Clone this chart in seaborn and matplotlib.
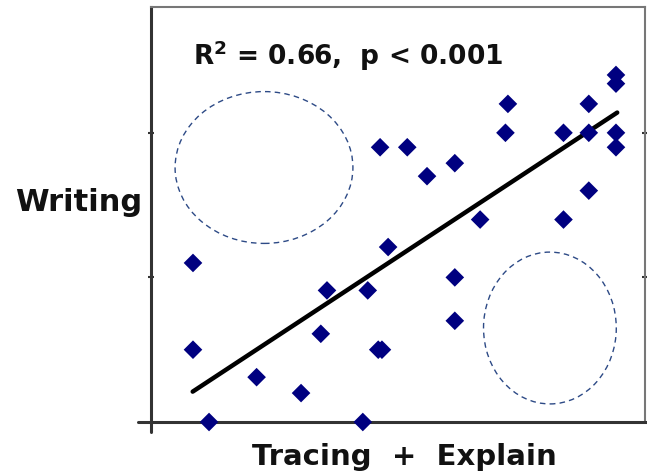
import numpy as np
import pandas as pd
import matplotlib
matplotlib.use('Agg')
import matplotlib.pyplot as plt
import seaborn as sns
from matplotlib.patches import Ellipse

# --- datos ---
tracing = [0.68, 0.68, 0.94, 1.71, 2.43, 2.75, 2.85, 3.43, 3.51, 3.68, 3.74,
           3.84, 3.71, 4.15, 4.47, 4.92, 4.92, 4.92, 5.33, 5.74, 5.78, 6.68,
           6.68, 7.09, 7.09, 7.09, 7.53, 7.53, 7.53, 7.53]
writing = [1.10, 0.50, 0.00, 0.31, 0.20, 0.61, 0.91, 0.00, 0.91, 0.50, 0.50,
           1.21, 1.90, 1.90, 1.70, 1.79, 1.00, 0.70, 1.40, 2.00, 2.20, 2.00,
           1.40, 2.20, 2.00, 1.60, 2.40, 2.34, 2.00, 1.90]

# recta de ajuste (extremos leidos)
fit_x = [0.675, 7.55]
fit_y = [0.21, 2.14]

# elipses punteadas: centro x, centro y, ancho, alto
ell_cx = [1.83, 6.46]
ell_cy = [1.76, 0.65]
ell_w = [2.88, 2.15]
ell_h = [1.05, 1.05]

stats_txt = r'R$^\mathbf{2}$ = 0.66,  p < 0.001'

df = pd.DataFrame({'tracing': tracing, 'writing': writing})

sns.set_style('white')
plt.rcParams['font.family'] = ['DejaVu Sans']
plt.rcParams['mathtext.fontset'] = 'dejavusans'

fig = plt.figure(figsize=(6.47, 4.76), dpi=100)
ax = fig.add_axes([151/647, 1-422/476, 494/647, 415/476])

for cx, cy, w, h in zip(ell_cx, ell_cy, ell_w, ell_h):
    ax.add_patch(Ellipse((cx, cy), w, h, fill=False, ls=(0, (4, 3)),
                         lw=1.0, ec='#2d4a86'))

sns.lineplot(x=fit_x, y=fit_y, ax=ax, color='black', lw=3.2)
sns.scatterplot(data=df, x='tracing', y='writing', ax=ax, marker='D',
                s=90, color='#000080', edgecolor='none', clip_on=False, zorder=5)

ax.set_xlim(0, 8)
ax.set_ylim(0, 2.87)
ax.set_xticks([7])
ax.set_yticks([1, 2])
ax.set_xticklabels([])
ax.set_yticklabels([])
ax.tick_params(axis='x', direction='out', length=3, width=1.5, color='#333')
ax.tick_params(axis='y', direction='inout', length=5, width=1.5, color='#333',
               right=True, left=True)

for s in ['left', 'bottom']:
    ax.spines[s].set_color('#333333')
    ax.spines[s].set_linewidth(2.2)
for s in ['top', 'right']:
    ax.spines[s].set_color('#777777')
    ax.spines[s].set_linewidth(1.5)
# los ejes se cruzan como en Excel
ax.axhline(0, xmin=-0.026, xmax=0, color='#333333', lw=2.2, clip_on=False)
ax.axvline(0, ymin=-0.025, ymax=0, color='#333333', lw=2.2, clip_on=False)

ax.text(0.085, 0.86, stats_txt, transform=ax.transAxes, fontsize=19,
        fontweight='bold', color='#111111', va='baseline', ha='left')

ax.set_xlabel('Tracing  +  Explain', fontsize=21, fontweight='bold',
              color='#111111', va='center')
ax.xaxis.set_label_coords(0.512, -0.084)
ax.set_ylabel('Writing', fontsize=22, fontweight='bold', color='#111111',
              rotation=0, ha='left', va='center')
ax.yaxis.set_label_coords(-0.275, 0.528)

plt.savefig('out.png', dpi=100)
